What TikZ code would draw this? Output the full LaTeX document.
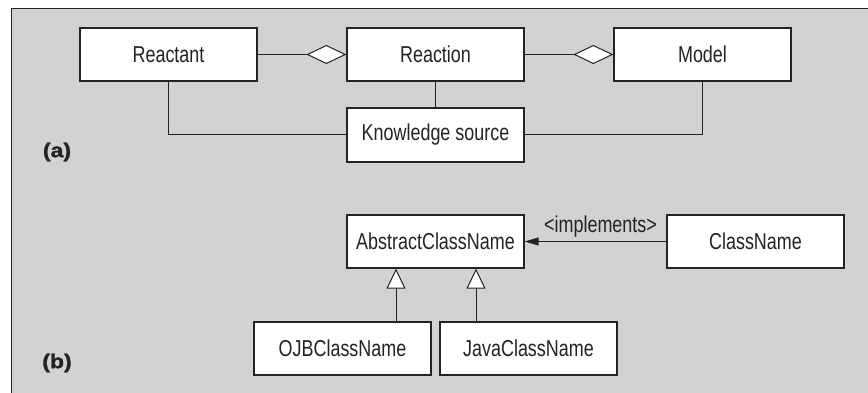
\documentclass[tikz,border=0pt]{standalone}
\usepackage{fontspec}
\setmainfont{Liberation Sans}[FakeStretch=0.78]
\newfontfamily\tagfont{Liberation Sans}[FakeStretch=1.15, BoldFeatures={FakeBold=1.5}]
\usetikzlibrary{arrows.meta}
\definecolor{panel}{RGB}{209,210,212}
\definecolor{ink}{RGB}{35,35,35}
\tikzset{
  cls/.style={draw=ink, line width=1.3pt, fill=white, minimum width=177pt,
    minimum height=53pt, inner sep=0pt,
    font=\fontsize{23}{27}\selectfont, text=ink},
  link/.style={draw=ink, line width=1pt},
  aggr/.style={link, -{Diamond[fill=white, length=40pt, width=19pt, line width=1pt]}},
  gen/.style={link, -{Triangle[fill=white, length=20pt, width=19pt, line width=1pt]}},
  impl/.style={link, -{Triangle[length=14pt, width=8pt]}},
  tag/.style={font=\tagfont\bfseries\fontsize{20}{24}\selectfont, text=ink, inner sep=0pt}
}
\begin{document}
\begin{tikzpicture}[x=1pt, y=-1pt]
  \useasboundingbox (0,0) rectangle (868,393);
  % panel and its frame
  \fill[panel] (11,9) rectangle (868,393);
  \draw[ink, line width=1pt] (11,393) -- (11,9) -- (868,9);

  % (a) domain classes
  \node[cls] (reactant) at (168.5,54.5) {Reactant};
  \node[cls] (reaction) at (435.5,54.5) {Reaction};
  \node[cls] (model) at (702.5,54.5) {Model};
  \node[cls, minimum height=54pt] (ks) at (435.5,135) {Knowledge source};

  \draw[aggr] (reactant.east) -- (reaction.west);
  \draw[aggr] (reaction.east) -- (model.west);
  \draw[link] (reaction.south) -- (ks.north);
  \draw[link] (reactant.south) |- (ks.west);
  \draw[link] (model.south) |- (ks.east);

  \node[tag] (la) at (57,152) {(a)};

  % (b) class naming
  \node[cls] (abstract) at (435.5,241.5) {AbstractClassName};
  \node[cls] (classname) at (755.5,241.5) {ClassName};
  \node[cls] (ojb) at (342.5,348.5) {OJBClassName};
  \node[cls] (java) at (528.5,348.5) {JavaClassName};

  \coordinate (gl) at ([xshift=-39.5pt]abstract.south);
  \coordinate (gr) at ([xshift=40.5pt]abstract.south);
  \draw[gen] (ojb.north -| gl) -- (gl);
  \draw[gen] (java.north -| gr) -- (gr);
  \draw[impl] (classname.west) -- (abstract.east)
    node[midway, above=4pt, inner sep=0pt, xshift=5pt,
         font=\fontsize{23}{27}\selectfont, text=ink] {\textless implements\textgreater};

  \node[tag] (lb) at (57,363) {(b)};
\end{tikzpicture}
\end{document}
